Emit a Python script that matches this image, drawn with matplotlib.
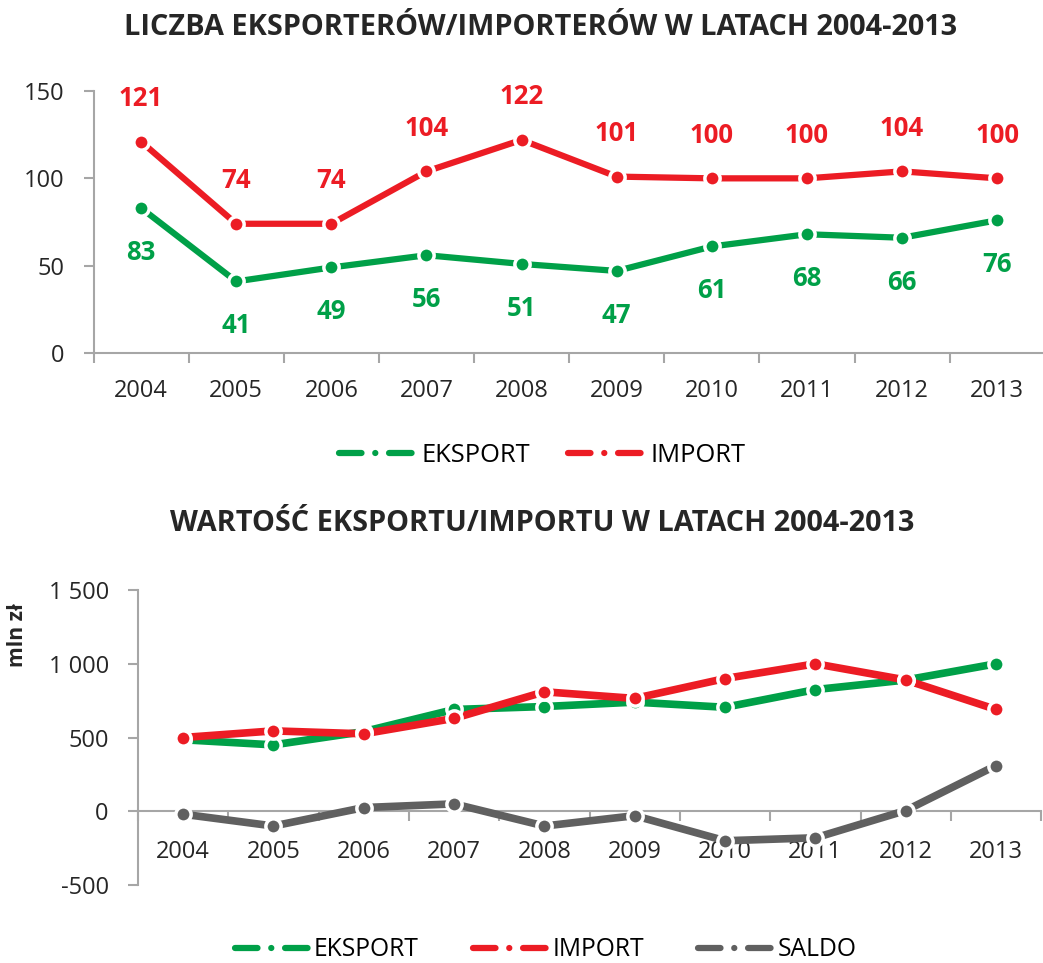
import matplotlib
matplotlib.use("Agg")
import matplotlib.pyplot as plt
from matplotlib.lines import Line2D

years = ["2004", "2005", "2006", "2007", "2008", "2009", "2010", "2011", "2012", "2013"]
exporters = [83, 41, 49, 56, 51, 47, 61, 68, 66, 76]
importers = [121, 74, 74, 104, 122, 101, 100, 100, 104, 100]

export_value = [485, 450, 540, 690, 710, 740, 705, 825, 890, 1000]
import_value = [500, 545, 525, 630, 810, 765, 900, 1000, 890, 690]
saldo_value = [-20, -100, 25, 50, -100, -30, -200, -180, 5, 310]

title_top = "LICZBA EKSPORTERÓW/IMPORTERÓW W LATACH 2004-2013"
title_bottom = "WARTOŚĆ EKSPORTU/IMPORTU W LATACH 2004-2013"

GREEN = "#00A048"
RED = "#EC1C24"
GRAY = "#606060"
AX = "#A6A6A6"
TXT = "#262626"
FONT = "Open Sans"

plt.rcParams['font.family'] = [FONT, 'DejaVu Sans']

fig = plt.figure(figsize=(10.43, 9.63), dpi=100)

x = list(range(len(years)))

def style_series(ax, vals, color, lw):
    ax.plot(x, vals, color=color, lw=lw, solid_capstyle='butt', zorder=3)
    ax.plot(x, vals, ls='none', marker='o', ms=11, mfc=color, mec='white', mew=2.5, zorder=4)

def legend_handles(pairs):
    return [Line2D([0], [0], color=c, lw=4.5, dash_capstyle='round',
                   linestyle=(0, (3.6, 2.2, 0.01, 2.2)), label=l) for l, c in pairs]

# ---------- top chart ----------
ax1 = fig.add_axes([0.0897, 0.6334, 0.912, 0.2721])
style_series(ax1, importers, RED, 4.5)
style_series(ax1, exporters, GREEN, 4.5)
ax1.set_xlim(-0.5, 9.5)
ax1.set_ylim(0, 150)
ax1.set_yticks([0, 50, 100, 150])
ax1.set_xticks(x)
ax1.set_xticklabels(years)
ax1.set_xticks([i - 0.5 for i in range(11)], minor=True)
ax1.tick_params(axis='x', which='major', length=0, pad=19, labelsize=17, colors=TXT)
ax1.tick_params(axis='x', which='minor', length=7, width=1.5, color=AX, direction='out')
ax1.tick_params(axis='y', length=7, width=1.5, color=AX, labelsize=17, labelcolor=TXT, pad=14)
for s in ['top', 'right']:
    ax1.spines[s].set_visible(False)
for s in ['left', 'bottom']:
    ax1.spines[s].set_color(AX)
    ax1.spines[s].set_linewidth(1.5)
for xi, v in zip(x, importers):
    ax1.annotate(str(v), (xi, v), xytext=(0, 31), textcoords='offset points',
                 ha='center', va='center', color=RED, fontsize=18.5, fontweight='bold')
for xi, v in zip(x, exporters):
    ax1.annotate(str(v), (xi, v), xytext=(0, -32), textcoords='offset points',
                 ha='center', va='center', color=GREEN, fontsize=18.5, fontweight='bold')
fig.text(0.518, 0.971, title_top, ha='center', va='center', fontsize=20.8, fontweight='bold', color=TXT)
fig.legend(handles=legend_handles([("EKSPORT", GREEN), ("IMPORT", RED)]),
           loc='center', bbox_to_anchor=(0.52, 0.527), ncol=2, frameon=False,
           fontsize=18.4, handlelength=3.0, columnspacing=1.5, handletextpad=0.23)

# ---------- bottom chart ----------
ax2 = fig.add_axes([0.1323, 0.081, 0.866, 0.3063])
style_series(ax2, export_value, GREEN, 5.5)
style_series(ax2, import_value, RED, 5.5)
style_series(ax2, saldo_value, GRAY, 5.5)
ax2.set_xlim(-0.5, 9.5)
ax2.set_ylim(-500, 1500)
ax2.set_yticks([-500, 0, 500, 1000, 1500])
ax2.set_yticklabels(["-500", "0", "500", "1 000", "1 500"])
ax2.set_xticks(x)
ax2.set_xticklabels(years)
ax2.set_xticks([i - 0.5 for i in range(11)], minor=True)
ax2.spines['bottom'].set_position(('data', 0))
ax2.tick_params(axis='x', which='major', length=0, pad=21, labelsize=17, colors=TXT)
ax2.tick_params(axis='x', which='minor', length=7, width=1.5, color=AX, direction='out')
ax2.tick_params(axis='y', length=7, width=1.5, color=AX, labelsize=17, labelcolor=TXT, pad=14)
for s in ['top', 'right']:
    ax2.spines[s].set_visible(False)
for s in ['left', 'bottom']:
    ax2.spines[s].set_color(AX)
    ax2.spines[s].set_linewidth(1.5)
ax2.set_ylabel("mln zł", fontsize=15.2, fontweight='bold', color=TXT)
ax2.yaxis.set_label_coords(-0.122, 0.847)
fig.text(0.52, 0.456, title_bottom, ha='center', va='center', fontsize=20.8, fontweight='bold', color=TXT)
fig.legend(handles=legend_handles([("EKSPORT", GREEN), ("IMPORT", RED), ("SALDO", GRAY)]),
           loc='center', bbox_to_anchor=(0.523, 0.0135), ncol=3, frameon=False,
           fontsize=17.7, handlelength=3.0, columnspacing=2.2, handletextpad=0.23)

fig.savefig("out.png", dpi=100, facecolor='white')
